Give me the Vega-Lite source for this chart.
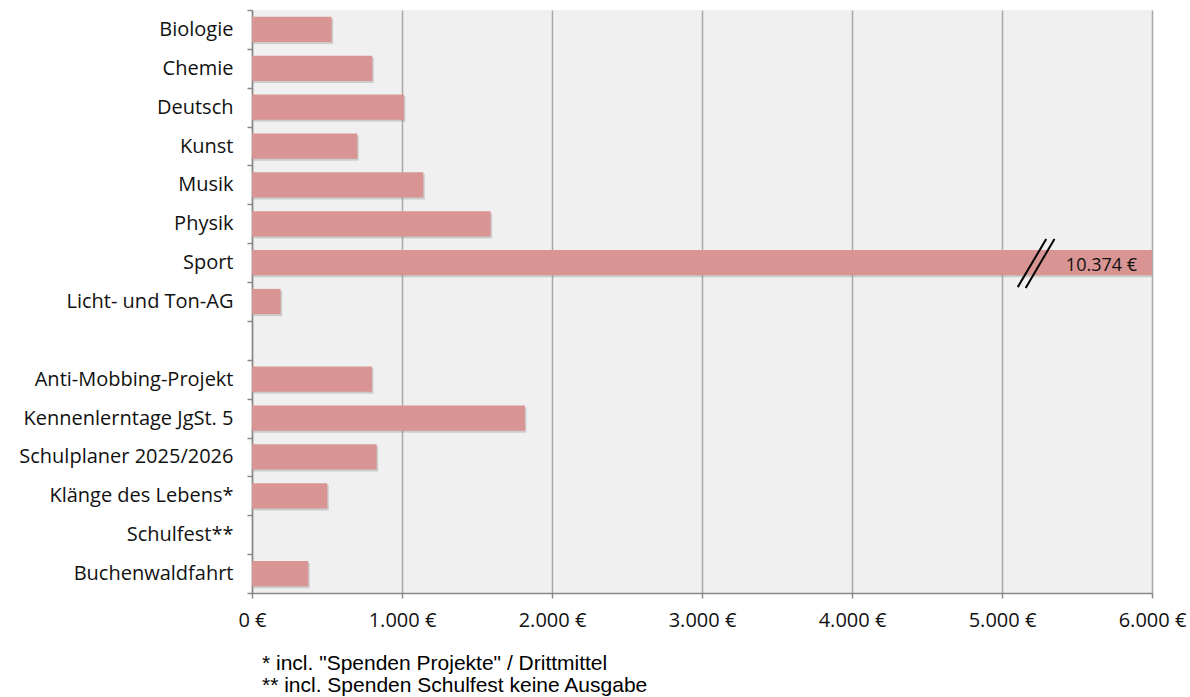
{
  "$schema": "https://vega.github.io/schema/vega-lite/v6.json",
  "width": 900,
  "height": 583,
  "autosize": {"type": "none"},
  "padding": {"left": 252, "top": 10, "right": 38, "bottom": 104},
  "background": "white",
  "config": {
    "view": {"fill": "#f0f0f0", "stroke": null},
    "font": "Open Sans",
    "axisX": {"title": null, "grid": true, "gridColor": "#a8a8a8", "gridWidth": 1.5, "domainColor": "#888888", "domainWidth": 1.5, "tickColor": "#888888", "tickWidth": 1.5, "tickSize": 5, "labelPadding": 12, "labelFontSize": 20, "labelColor": "#111111", "labelFont": "Open Sans", "labelFlush": false, "labelOverlap": false},
    "axisY": {"title": null, "grid": false, "domainColor": "#888888", "domainWidth": 1.5, "tickColor": "#888888", "tickWidth": 1.5, "tickSize": 5, "labelPadding": 14, "labelFontSize": 20, "labelLimit": 400, "labelColor": "#111111", "labelFont": "Open Sans"}
  },
  "title": {
    "text": ["* incl. \"Spenden Projekte\" / Drittmittel", "** incl. Spenden Schulfest keine Ausgabe"],
    "orient": "bottom",
    "anchor": "start",
    "frame": "group",
    "dx": 10,
    "offset": 23,
    "font": "Liberation Sans",
    "fontSize": 21,
    "fontWeight": "normal",
    "color": "#000000",
    "lineHeight": 22
  },
  "datasets": {
    "budget": [
      {"cat": "Biologie", "value": 531},
      {"cat": "Chemie", "value": 802},
      {"cat": "Deutsch", "value": 1013},
      {"cat": "Kunst", "value": 702},
      {"cat": "Musik", "value": 1142},
      {"cat": "Physik", "value": 1591},
      {"cat": "Sport", "value": 10374},
      {"cat": "Licht- und Ton-AG", "value": 191},
      {"cat": "Anti-Mobbing-Projekt", "value": 800},
      {"cat": "Kennenlerntage JgSt. 5", "value": 1820},
      {"cat": "Schulplaner 2025/2026", "value": 831},
      {"cat": "Klänge des Lebens*", "value": 502},
      {"cat": "Schulfest**", "value": 0},
      {"cat": "Buchenwaldfahrt", "value": 375}
    ],
    "breaks": [
      {"x": 5105, "x2": 5295, "y": 7.13, "y2": 5.89},
      {"x": 5158, "x2": 5350, "y": 7.15, "y2": 5.89}
    ],
    "labels": [
      {"cat": "Sport", "label": "10.374 €"}
    ]
  },
  "resolve": {"scale": {"y": "independent"}},
  "layer": [
    {
      "data": {"name": "budget"},
      "mark": {"type": "bar", "clip": true, "color": "#8a8a8a", "opacity": 0.35, "xOffset": 1.5, "yOffset": 2, "height": {"band": 0.65}},
      "encoding": {
        "y": {"field": "cat", "type": "nominal", "sort": null,
              "scale": {"domain": ["Biologie", "Chemie", "Deutsch", "Kunst", "Musik", "Physik", "Sport", "Licht- und Ton-AG", " ", "Anti-Mobbing-Projekt", "Kennenlerntage JgSt. 5", "Schulplaner 2025/2026", "Klänge des Lebens*", "Schulfest**", "Buchenwaldfahrt"], "paddingInner": 0, "paddingOuter": 0},
              "axis": null},
        "x": {"field": "value", "type": "quantitative", "scale": {"domain": [0, 6000], "nice": false},
              "axis": {"values": [0, 1000, 2000, 3000, 4000, 5000, 6000], "labelFontSize": 20, "labelFlush": false,
                       "labelExpr": "replace(format(datum.value, ','), ',', '.') + ' €'"}}
      }
    },
    {
      "data": {"name": "budget"},
      "mark": {"type": "bar", "clip": true, "color": "#d99594", "height": {"band": 0.65}},
      "encoding": {
        "y": {"field": "cat", "type": "nominal", "sort": null,
              "scale": {"domain": ["Biologie", "Chemie", "Deutsch", "Kunst", "Musik", "Physik", "Sport", "Licht- und Ton-AG", " ", "Anti-Mobbing-Projekt", "Kennenlerntage JgSt. 5", "Schulplaner 2025/2026", "Klänge des Lebens*", "Schulfest**", "Buchenwaldfahrt"], "paddingInner": 0, "paddingOuter": 0},
              "axis": {"tickBand": "extent"}},
        "x": {"field": "value", "type": "quantitative"}
      }
    },
    {
      "data": {"name": "breaks"},
      "mark": {"type": "rule", "color": "#000000", "strokeWidth": 2, "clip": false},
      "encoding": {
        "x": {"field": "x", "type": "quantitative"},
        "x2": {"field": "x2"},
        "y": {"field": "y", "type": "quantitative", "scale": {"domain": [0, 15], "nice": false, "zero": false, "reverse": true}, "axis": null},
        "y2": {"field": "y2"}
      }
    },
    {
      "data": {"name": "labels"},
      "mark": {"type": "text", "align": "right", "baseline": "middle", "dx": -15, "dy": 3, "fontSize": 18, "font": "Open Sans", "color": "#111111"},
      "encoding": {
        "y": {"field": "cat", "type": "nominal",
              "scale": {"domain": ["Biologie", "Chemie", "Deutsch", "Kunst", "Musik", "Physik", "Sport", "Licht- und Ton-AG", " ", "Anti-Mobbing-Projekt", "Kennenlerntage JgSt. 5", "Schulplaner 2025/2026", "Klänge des Lebens*", "Schulfest**", "Buchenwaldfahrt"], "paddingInner": 0, "paddingOuter": 0},
              "axis": null},
        "x": {"datum": 6000, "type": "quantitative"},
        "text": {"field": "label"}
      }
    }
  ]
}
